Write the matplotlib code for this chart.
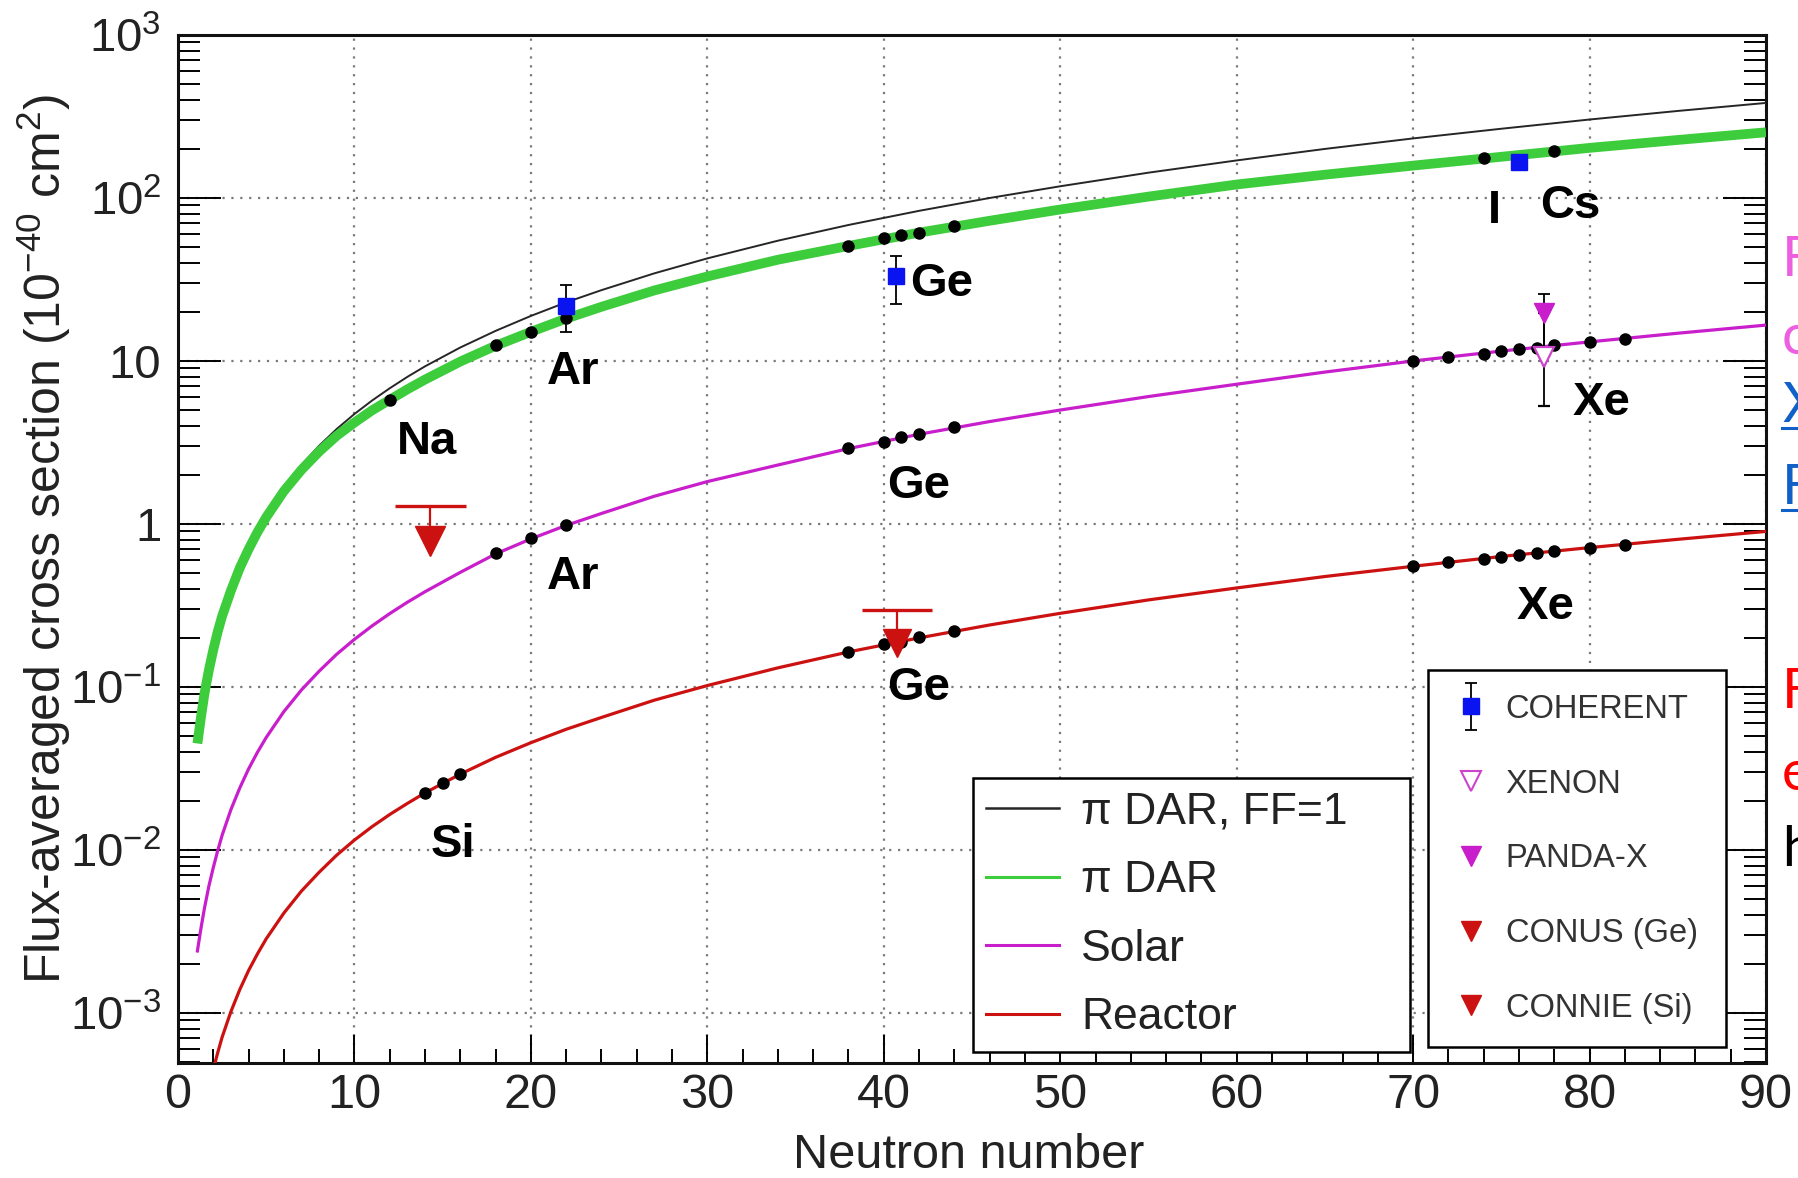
import matplotlib
matplotlib.use("Agg")
import matplotlib.pyplot as plt
from matplotlib.lines import Line2D
from matplotlib.container import ErrorbarContainer
from matplotlib.legend_handler import HandlerErrorbar
from matplotlib.ticker import FixedLocator, LogLocator, MultipleLocator, NullFormatter

plt.rcParams['font.family'] = ['Liberation Sans', 'DejaVu Sans']
plt.rcParams['mathtext.fontset'] = 'custom'
plt.rcParams['mathtext.rm'] = 'Liberation Sans'
plt.rcParams['mathtext.it'] = 'Liberation Sans:italic'
plt.rcParams['mathtext.bf'] = 'Liberation Sans:bold'

# ---- model curves: flux-averaged CEvNS cross section vs neutron number ----
n_curve = [1.1, 1.3, 1.5, 1.75, 2, 2.25, 2.5, 3, 3.5, 4, 4.5, 5, 6, 7, 8, 9, 10,
           11, 12, 13, 14, 16, 18, 20, 22, 24, 27, 30, 34, 38, 42, 46, 50, 55,
           60, 65, 70, 75, 80, 85, 90]
sigma_dar_ff1 = [0.047, 0.068, 0.095, 0.133, 0.177, 0.228, 0.285, 0.41, 0.565,
                 0.74, 0.945, 1.17, 1.69, 2.31, 3.02, 3.83, 4.73, 5.72, 6.8,
                 7.99, 9.27, 12.1, 15.3, 18.9, 22.9, 27.2, 34.5, 42.6, 54.7,
                 68.3, 83.4, 100, 118, 143, 170, 200, 232, 266, 303, 342, 383]
sigma_dar = [0.045, 0.065, 0.091, 0.127, 0.169, 0.218, 0.272, 0.39, 0.537,
             0.70, 0.89, 1.10, 1.59, 2.15, 2.78, 3.48, 4.19, 4.98, 5.78, 6.7,
             7.69, 9.92, 12.4, 15.1, 18.2, 21.5, 27.1, 33.0, 41.8, 50.8, 61.3,
             72.5, 85.0, 102, 121, 139, 158, 179, 203, 227, 253]
sigma_solar = [0.0024, 0.0033, 0.0044, 0.006, 0.0078, 0.0099, 0.0123, 0.0177,
               0.024, 0.0314, 0.0397, 0.049, 0.0706, 0.096, 0.125, 0.159, 0.196,
               0.237, 0.282, 0.331, 0.384, 0.505, 0.655, 0.81, 0.98, 1.16, 1.48,
               1.82, 2.3, 2.9, 3.55, 4.25, 5.0, 6.05, 7.2, 8.55, 10.0, 11.5,
               13.1, 14.8, 16.6]
sigma_reactor = [0.00014, 0.00019, 0.00025, 0.00035, 0.00045, 0.00057, 0.00071,
                 0.00102, 0.00139, 0.00182, 0.0023, 0.00285, 0.0041, 0.0056,
                 0.0073, 0.0093, 0.0115, 0.0139, 0.0165, 0.0193, 0.0224, 0.0292,
                 0.037, 0.0455, 0.055, 0.065, 0.083, 0.102, 0.131, 0.164, 0.200,
                 0.24, 0.283, 0.342, 0.405, 0.476, 0.55, 0.632, 0.716, 0.805, 0.9]

# ---- isotopes of target nuclei on each curve ----
dar_iso_n = [12, 18, 20, 22, 38, 40, 41, 42, 44, 74, 78]
dar_iso_sigma = [5.74, 12.5, 15.1, 18.3, 50.7, 56.9, 58.9, 61.4, 66.9, 175, 193]
solar_iso_n = [18, 20, 22, 38, 40, 41, 42, 44, 70, 72, 74, 75, 76, 77, 78, 80, 82]
solar_iso_sigma = [0.66, 0.817, 0.99, 2.94, 3.19, 3.43, 3.57, 3.91, 10.05, 10.6,
                   11.1, 11.5, 11.8, 12.0, 12.5, 13.1, 13.7]
reactor_iso_n = [14, 15, 16, 38, 40, 41, 42, 44, 70, 72, 74, 75, 76, 77, 78, 80, 82]
reactor_iso_sigma = [0.0224, 0.0258, 0.0291, 0.164, 0.183, 0.19, 0.202, 0.221,
                     0.55, 0.582, 0.613, 0.63, 0.642, 0.664, 0.686, 0.713, 0.747]

# ---- measurements ----
coherent_n = [22, 40.7, 76]
coherent_sigma = [21.7, 33.0, 167]
coherent_err_lo = [6.6, 10.6, 12]
coherent_err_hi = [7.4, 11.3, 12]

xenon_n = [77.4]
xenon_sigma = [10.6]
xenon_err_lo = [5.3]
xenon_err_hi = [9.2]

pandax_n = [77.4]
pandax_sigma = [19.8]
pandax_err_lo = [8.1]
pandax_err_hi = [6.0]

# upper limits: neutron number, limit value, arrow tip
conus_n, conus_limit, conus_tip = 40.75, 0.295, 0.187
connie_n, connie_limit, connie_tip = 14.3, 1.29, 0.79

# ---- element labels ----
label_text = ["Na", "Ar", "Ge", "I", "Cs", "Ar", "Ge", "Xe", "Si", "Ge", "Xe"]
label_n = [14.1, 22.4, 43.3, 74.6, 78.9, 22.4, 42.0, 80.7, 15.6, 42.0, 77.5]
label_sigma = [3.2, 8.6, 29.8, 83, 89, 0.47, 1.72, 5.55, 0.0107, 0.098, 0.309]

x_ticks = [0, 10, 20, 30, 40, 50, 60, 70, 80, 90]
y_ticks = [1e-3, 1e-2, 1e-1, 1, 10, 1e2, 1e3]
y_tick_labels = [r'$\mathregular{10^{-3}}$', r'$\mathregular{10^{-2}}$',
                 r'$\mathregular{10^{-1}}$', '1', '10',
                 r'$\mathregular{10^{2}}$', r'$\mathregular{10^{3}}$']

# colours
c_black = '#262626'
c_green = '#3ccc3c'
c_magenta = '#c81ecb'
c_red = '#cc1111'
c_blue = '#0a14f0'

W, H = 1798, 1178
fig = plt.figure(figsize=(W / 100, H / 100), dpi=100)
ax = fig.add_axes([178 / W, 1 - 1063 / H, (1766 - 178) / W, (1063 - 35) / H])
ax.set_yscale('log')
ax.set_xlim(0, 90)
ax.set_ylim(4.93e-4, 1e3)

# curves
ax.plot(n_curve, sigma_dar_ff1, color=c_black, lw=1.4, zorder=3.0)
ax.plot(n_curve, sigma_dar, color=c_green, lw=7, zorder=3.2, solid_capstyle='butt')
ax.plot(n_curve, sigma_solar, color=c_magenta, lw=2.3, zorder=3)
ax.plot(n_curve, sigma_reactor, color=c_red, lw=2.3, zorder=3)

# isotope points
for xs, ys in [(dar_iso_n, dar_iso_sigma), (solar_iso_n, solar_iso_sigma),
               (reactor_iso_n, reactor_iso_sigma)]:
    ax.plot(xs, ys, 'o', color='black', ms=8, zorder=5)

# upper limits (cap + arrow + triangle)
for n0, lim, tip, ms in [(conus_n, conus_limit, conus_tip, 20),
                         (connie_n, connie_limit, connie_tip, 22)]:
    ax.hlines(lim, n0 - 2.0, n0 + 2.0, color=c_red, lw=2.4, zorder=6)
    ax.vlines(n0, tip, lim, color=c_red, lw=1.6, zorder=6)
    ax.plot([n0], [tip], 'v', color=c_red, ms=ms, zorder=6)

# measurements
coh = ax.errorbar(coherent_n, coherent_sigma, yerr=[coherent_err_lo, coherent_err_hi],
                  fmt='s', color=c_blue, ms=12, ecolor='black', elinewidth=1.3,
                  capsize=4.5, capthick=1.3, zorder=7)
ax.errorbar(xenon_n, xenon_sigma, yerr=[xenon_err_lo, xenon_err_hi], fmt='v',
            mfc='white', mec='#cc44cc', mew=1.6, ms=15, ecolor='black',
            elinewidth=1.3, capsize=4.5, capthick=1.3, zorder=7)
ax.errorbar(pandax_n, pandax_sigma, yerr=[pandax_err_lo, pandax_err_hi], fmt='v',
            color=c_magenta, ms=15, ecolor='black', elinewidth=1.3,
            capsize=4.5, capthick=1.3, zorder=7)

for t, xn, ys in zip(label_text, label_n, label_sigma):
    ax.text(xn, ys, t, fontsize=34, fontweight='bold', ha='center', va='center',
            color='black', zorder=8)

# axes styling
ax.xaxis.set_major_locator(FixedLocator(x_ticks))
ax.xaxis.set_minor_locator(MultipleLocator(2))
ax.yaxis.set_major_locator(FixedLocator(y_ticks))
ax.set_yticklabels(y_tick_labels)
ax.yaxis.set_minor_locator(LogLocator(base=10, subs=range(2, 10), numticks=20))
ax.yaxis.set_minor_formatter(NullFormatter())
ax.tick_params(axis='both', which='both', direction='in', colors='black',
               labelcolor='#222222', width=1.4)
ax.tick_params(axis='x', which='major', length=20, labelsize=35, pad=7)
ax.tick_params(axis='x', which='minor', length=10)
ax.tick_params(axis='y', which='major', length=31, labelsize=34, pad=12,
               right=True)
ax.tick_params(axis='y', which='minor', length=16, right=True)
ax.grid(True, which='major', color='#7a7a7a', lw=1.6, linestyle=(0, (1, 3)))
ax.set_axisbelow(True)
for sp in ax.spines.values():
    sp.set_linewidth(2.2)
    sp.set_color('#111111')

ax.set_ylabel(r'Flux-averaged cross section (10$^{\mathregular{-40}}$ cm$^{\mathregular{2}}$)',
              fontsize=36, color='#222222')
ax.yaxis.set_label_coords(-0.0660, 0.51)
ax.set_xlabel('Neutron number', fontsize=35, color='#222222')
ax.xaxis.set_label_coords(0.498, -0.068)

# legends
line_handles = [Line2D([], [], color=c_black, lw=1.8),
                Line2D([], [], color=c_green, lw=2.2),
                Line2D([], [], color=c_magenta, lw=2.2),
                Line2D([], [], color=c_red, lw=2.2)]
line_labels = ['π DAR, FF=1', 'π DAR', 'Solar', 'Reactor']
leg1 = ax.legend(line_handles, line_labels, loc='upper left',
                 bbox_to_anchor=(972.7 / W, 1 - 1048.3 / H, 437 / W, 270 / H),
                 bbox_transform=fig.transFigure, mode='expand', fontsize=32,
                 labelspacing=0.62, borderpad=0.3, handlelength=1.64,
                 handletextpad=0.5, borderaxespad=0, fancybox=False,
                 framealpha=1, edgecolor='black', labelcolor='#222222')
leg1.get_frame().set_linewidth(1.8)
leg1.set_zorder(10)
ax.add_artist(leg1)

marker_handles = [coh,
                  Line2D([], [], ls='none', marker='v', ms=14, mfc='white',
                         mec='#cc44cc', mew=1.5),
                  Line2D([], [], ls='none', marker='v', ms=14, color=c_magenta),
                  Line2D([], [], ls='none', marker='v', ms=14, color=c_red),
                  Line2D([], [], ls='none', marker='v', ms=14, color=c_red)]
marker_labels = ['COHERENT', 'XENON', 'PANDA-X', 'CONUS (Ge)', 'CONNIE (Si)']
leg2 = ax.legend(marker_handles, marker_labels, loc='upper left',
                 bbox_to_anchor=(1428.3 / W, 1 - 1048.3 / H, 298 / W, 378 / H),
                 bbox_transform=fig.transFigure, mode='expand', fontsize=23.5,
                 labelspacing=1.34, borderpad=0.72, handlelength=1.15,
                 handletextpad=0.5, borderaxespad=0, fancybox=False,
                 framealpha=1, edgecolor='black', labelcolor='#333333',
                 handler_map={ErrorbarContainer: HandlerErrorbar(yerr_size=0.72)})
leg2.get_frame().set_linewidth(1.8)
leg2.set_zorder(10)

# slide text running off the right edge
side_text = ['F', 'c', 'X', 'F', 'F', 'e', 'h']
side_y = [260, 339, 406, 488, 693, 775, 851]
side_color = ['#ee5ee0', '#ee5ee0', '#1060c8', '#1060c8', '#ff0000', '#ff0000', '#000000']
side_underline = [False, False, True, True, False, False, False]
for t, yy, c, ul in zip(side_text, side_y, side_color, side_underline):
    fig.text(1782 / W, 1 - yy / H, t, fontsize=40, family=['Lato', 'DejaVu Sans'],
             color=c, ha='left', va='center')
    if ul:
        fig.add_artist(Line2D([1782 / W, 1.0], [1 - (yy + 22) / H] * 2,
                              color=c, lw=2.2, transform=fig.transFigure))

fig.savefig('out.png', dpi=100)
